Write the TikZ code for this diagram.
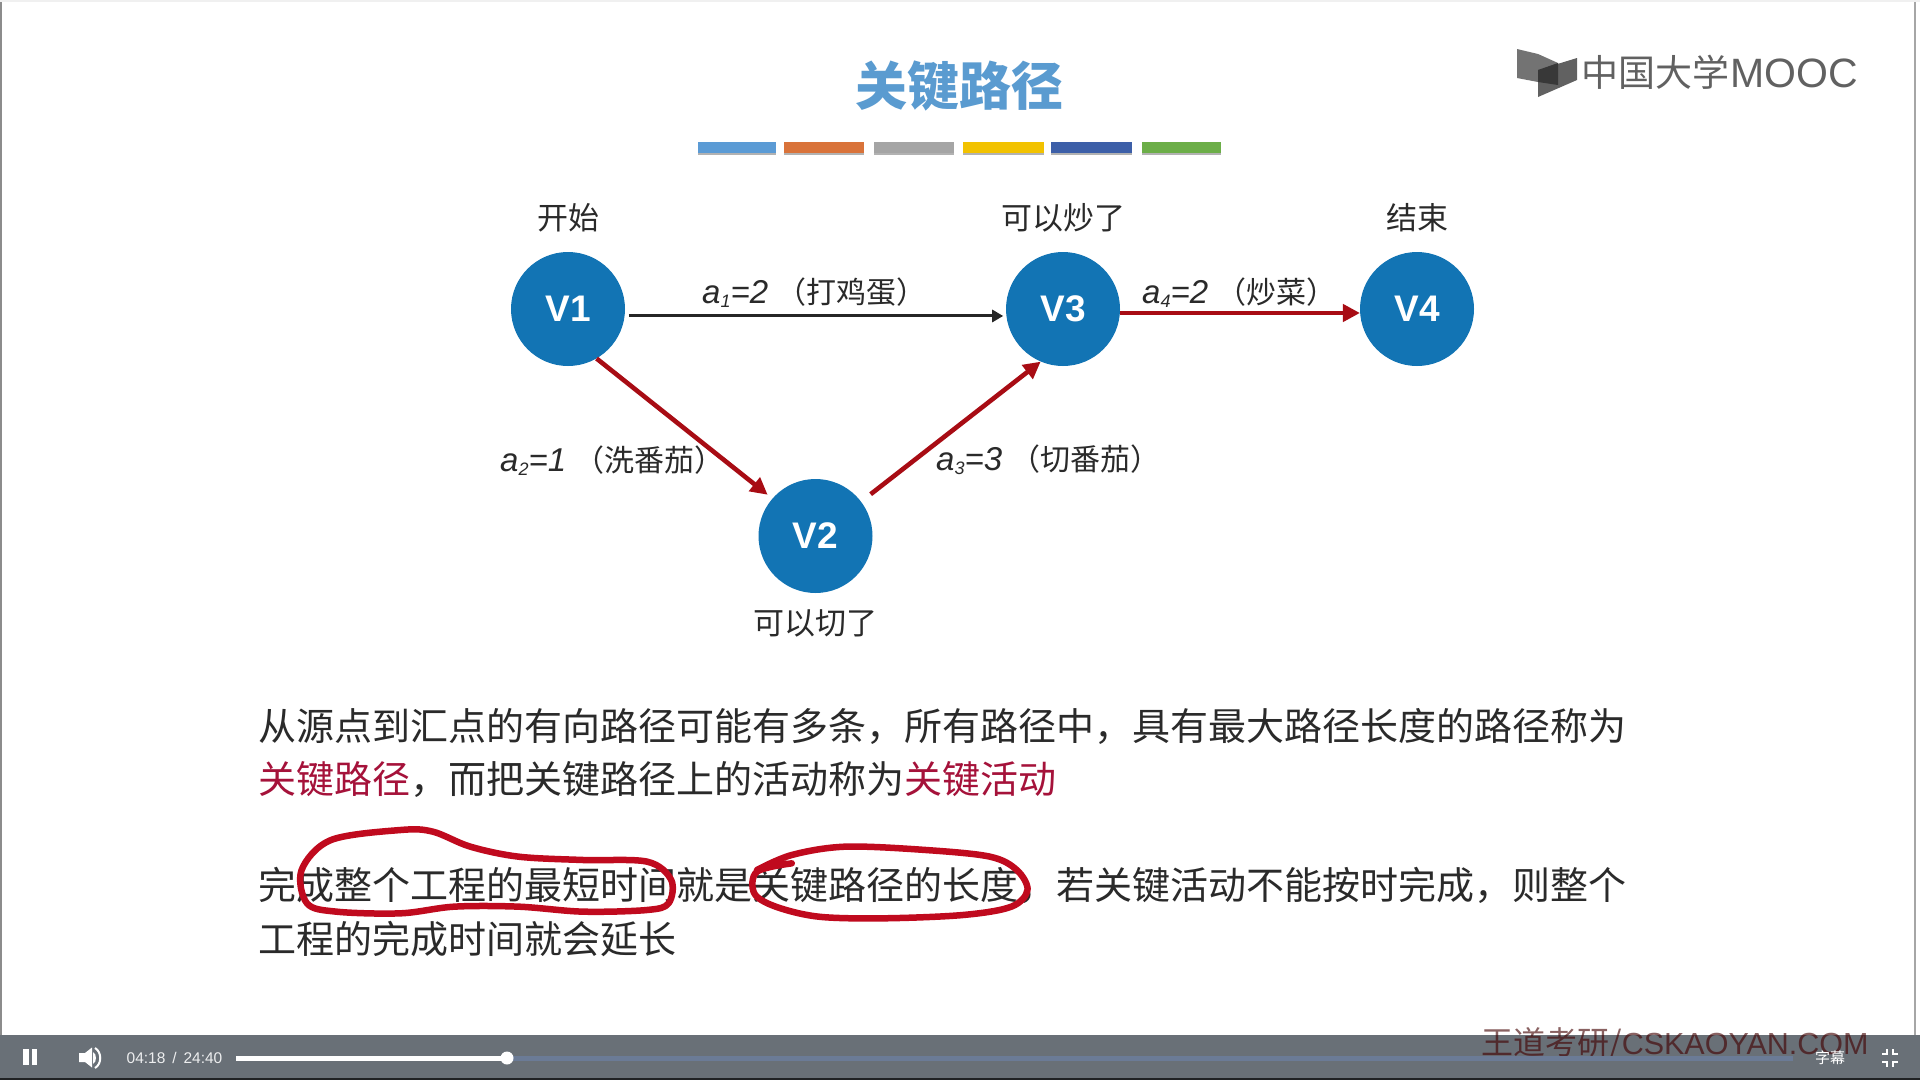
\documentclass[tikz,border=0pt]{standalone}
\usepackage{fontspec}
\setmainfont{Noto Sans CJK SC}
\newfontfamily\latinfont{Liberation Sans}
\usetikzlibrary{arrows.meta}
\definecolor{nodeblue}{HTML}{1274B4}
\definecolor{arrowred}{HTML}{A80C14}
\definecolor{inkred}{HTML}{C00A1E}
\definecolor{termred}{HTML}{A5123A}
\definecolor{bodyink}{HTML}{2A2A2A}
\definecolor{titleblue}{HTML}{5A9BD0}
\definecolor{barbg}{HTML}{697077}
\definecolor{buffer}{HTML}{6B7B96}
\newcommand{\fs}[1]{\fontsize{#1}{#1}\selectfont}
\newcommand{\actlabel}[3]{{\latinfont\itshape\fs{33}a\raisebox{-4pt}{\fs{18}#1}=#2}\hspace{8pt}\fs{30}（#3）}
\newcommand{\vname}[1]{\raisebox{-3pt}{#1}}
\tikzset{
  vertex/.style={circle,fill=nodeblue,minimum size=114pt,inner sep=0pt,text=white,font=\latinfont\bfseries\fs{37}},
  note/.style={inner sep=0pt,text=bodyink,font=\fs{31}},
  edgetext/.style={inner sep=0pt,anchor=west,text=bodyink},
  bodyline/.style={inner sep=0pt,anchor=west,text=bodyink,font=\fs{38}},
  plainarrow/.style={draw=black!85,line width=3pt,-{Triangle[length=11pt,width=12pt]}},
  critarrow/.style={draw=arrowred,line width=4.6pt,-{Triangle[length=17pt,width=17pt]}},
  inkloop/.style={draw=inkred,line width=6.5pt,line join=round,line cap=round},
  ctrl/.style={fill=white,draw=none}
}
\begin{document}
\begin{tikzpicture}[x=1pt,y=-1pt]
\useasboundingbox (0,0) rectangle (1920,1080);
\fill[white] (0,0) rectangle (1920,1080);
\fill[black!45] (0,0) rectangle (2,1035);
\fill[black!35] (1914,0) rectangle (1916,1035);
\fill[black!6] (0,0) rectangle (1920,1.5);

% title
\node[inner sep=0pt,text=titleblue,font=\bfseries\fs{52}] (title) at (959,86) {关键路径};

% colour bars
\foreach \xa/\xb/\c in {698/776/5B9BD5,784/864/D9733A,874/954/A5A5A5,963/1044/F2C200,1051/1132/3D5FA8,1142/1221/6CAE48}{
  \fill[black!30] (\xa,144) rectangle (\xb,155);
  \definecolor{barc}{HTML}{\c}
  \fill[barc] (\xa,142) rectangle (\xb,152.5);
}

% logo
\fill[black!55] (1517,49) -- (1538,54) -- (1558,63) -- (1558,85) -- (1538,82) -- (1517,78) -- cycle;
\fill[black!62] (1538,70) -- (1577,58) -- (1577,80) -- (1538,97) -- cycle;
\fill[black!78] (1538,70) -- (1558,63) -- (1558,85) -- (1538,82) -- cycle;
\node[inner sep=0pt,anchor=west,text=black!62,font=\fs{37}] (logocn) at (1581,72) {中国大学};
\node[inner sep=0pt,anchor=west,text=black!62,font=\latinfont\fs{41}] (logoen) at (1730,73) {MOOC};

% vertices
\node[vertex] (v1) at (568,309) {\vname{V1}};
\node[vertex] (v3) at (1063,309) {\vname{V3}};
\node[vertex] (v4) at (1417,309) {\vname{V4}};
\node[vertex] (v2) at (815.5,536) {\vname{V2}};

% vertex notes
\node[note] (n1) at (568,218) {开始};
\node[note] (n3) at (1063,218) {可以炒了};
\node[note] (n4) at (1417,218) {结束};
\node[note] (n2) at (815.5,623) {可以切了};

% connectors
\draw[plainarrow,shorten <=4pt,shorten >=3pt] (v1.-7) -- (v3.187);
\draw[critarrow] (v3.-4) -- (v4.184);
\draw[critarrow,shorten >=6pt] (v1.-60) -- (v2.139);
\draw[critarrow,shorten <=12pt] (v2.37.6) -- (v3.-113);

% connector labels
\node[edgetext] (l1) at (702,293) {\actlabel{1}{2}{打鸡蛋}};
\node[edgetext] (l2) at (500,461) {\actlabel{2}{1}{洗番茄}};
\node[edgetext] (l3) at (936,460) {\actlabel{3}{3}{切番茄}};
\node[edgetext] (l4) at (1142,293) {\actlabel{4}{2}{炒菜}};

% body text
\node[bodyline] (b1) at (258,726) {从源点到汇点的有向路径可能有多条，所有路径中，具有最大路径长度的路径称为};
\node[bodyline] (b2) at (258,779) {\textcolor{termred}{关键路径}，而把关键路径上的活动称为\textcolor{termred}{关键活动}};
\node[bodyline] (b3) at (258,885) {完成整个工程的最短时间就是关键路径的长度，若关键活动不能按时完成，则整个};
\node[bodyline] (b4) at (258,939) {工程的完成时间就会延长};

% hand-drawn circles
\begin{scope}[shift={(240,690)},x=0.5357pt,y=-0.3333pt]
\draw[inkloop] plot[smooth cycle,tension=0.55] coordinates {(125,640) (115,540) (170,450) (300,420) (360,425) (430,470) (520,500) (640,510) (760,515) (805,570) (800,640) (760,660) (640,665) (520,650) (400,650) (300,670) (180,665)};
\draw[inkloop] plot[smooth,tension=0.55] coordinates {(1030,520) (965,545) (960,610) (1000,650) (1080,680) (1200,685) (1350,675) (1440,650) (1470,600) (1450,540) (1400,500) (1280,480) (1130,470) (1030,495) (965,540)};
\end{scope}

% player bar
\fill[barbg] (0,1035) rectangle (1920,1080);
\fill[black!70!barbg] (0,1077.5) rectangle (1920,1080);
\node[inner sep=0pt,anchor=west,text=black!35!red!40!black,opacity=.62,font=\fs{32}] (mark) at (1481,1044) {王道考研/{\latinfont\fs{30.5}CSKAOYAN.COM}};
\fill[buffer] (507,1055.5) rectangle (1793,1060.5);
\fill[white] (236,1055.5) rectangle (507,1060.5);
\node[circle,ctrl,minimum size=13pt,inner sep=0pt] (knob) at (507,1058) {};
\fill[white] (23,1049) rectangle (29,1065);
\fill[white] (32,1049) rectangle (37,1065);
\fill[white] (79,1053) -- (85,1053) -- (92,1047.5) -- (92,1067.5) -- (85,1062) -- (79,1062) -- cycle;
\fill[white] (93,1052) .. controls (97,1054) and (97,1062) .. (93,1064) -- cycle;
\draw[white,line width=2pt] (95,1048) .. controls (102,1052) and (102,1064) .. (95,1068);
\node[inner sep=0pt,text=white!88!barbg,font=\latinfont\fs{15.5}] (time) at (174.5,1058) {04:18\, /\, 24:40};
\node[inner sep=0pt,text=white,font=\fs{15}] (cc) at (1830,1058) {字幕};
\draw[white,line width=2.5pt] (1882,1054) -- (1887,1054) -- (1887,1049);
\draw[white,line width=2.5pt] (1898,1054) -- (1893,1054) -- (1893,1049);
\draw[white,line width=2.5pt] (1882,1062) -- (1887,1062) -- (1887,1067);
\draw[white,line width=2.5pt] (1898,1062) -- (1893,1062) -- (1893,1067);
\end{tikzpicture}
\end{document}
